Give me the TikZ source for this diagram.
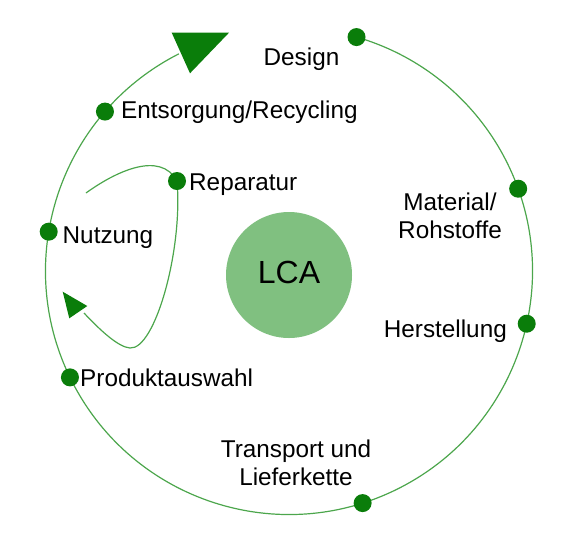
\documentclass[tikz,border=0pt]{standalone}
\usepackage{fontspec}
\setmainfont{Liberation Sans}
\definecolor{dotgreen}{HTML}{0A7D0A}
\definecolor{linegreen}{HTML}{4CA64C}
\definecolor{lcagreen}{HTML}{80C080}
\begin{document}
\begin{tikzpicture}[x=1pt,y=1pt,
  dot/.style={circle,fill=dotgreen,inner sep=0pt,minimum size=18pt},
  lbl/.style={font=\fontsize{24.3}{27.5}\selectfont,inner sep=0pt},
  ring/.style={draw=linegreen,line width=1.2pt},
  arrowtri/.style={fill=dotgreen}]
\useasboundingbox (0,0) rectangle (580,-542);
\coordinate (c) at (289,-271);
% main cycle
\coordinate (arcstart) at ([shift={(116.9:243.5)}]c);
\draw[ring] (arcstart) arc[start angle=116.9,end angle=433.9,radius=243.5];
\fill[arrowtri] (171.7,-32.7) -- (229,-32.7) -- (190,-73.3) -- cycle;
% dots
\node[dot] (design) at ([shift={(73.9:243.5)}]c) {};
\node[dot] (material) at ([shift={(19.75:243.5)}]c) {};
\node[dot] (herst) at ([shift={(-12.5:243.5)}]c) {};
\node[dot] (transport) at ([shift={(-72.4:243.5)}]c) {};
\node[dot] (produkt) at ([shift={(205.9:243.5)}]c) {};
\node[dot] (nutzung) at ([shift={(170.7:243.5)}]c) {};
\node[dot] (entsorgung) at ([shift={(139.1:243.5)}]c) {};
% repair loop
\coordinate (loopstart) at (86,-193);
\coordinate (loopend) at (84,-313);
\draw[ring] (loopstart) .. controls (115,-172) and (160,-150) .. (177,-181)
  .. controls (183,-250) and (155,-350) .. (130,-348)
  .. controls (118,-347) and (100,-330) .. (loopend);
\node[dot] (reparatur) at (177,-181) {};
\fill[arrowtri] (62.7,-291.7) -- (87.3,-306) -- (69.3,-318.3) -- cycle;
% LCA
\node[circle,fill=lcagreen,minimum size=126pt,inner sep=0pt] (lca) at (289,-275) {};
\node[font=\fontsize{32}{36}\selectfont,inner sep=0pt,anchor=base] (lcatext) at (289,-283) {LCA};
% labels
\node[lbl,anchor=base] (tdesign) at (301.5,-65) {Design};
\node[lbl,anchor=base west] (tentsorgung) at (121,-118) {Entsorgung/Recycling};
\node[lbl,anchor=base west] (treparatur) at (189,-190) {Reparatur};
\node[lbl,anchor=base west] (tnutzung) at (62.5,-243) {Nutzung};
\node[lbl,anchor=base west] (tprodukt) at (80,-386) {Produktauswahl};
\node[lbl,anchor=base east] (therst) at (507,-337) {Herstellung};
\node[lbl,align=center,anchor=base] (tmaterial) at (450,-238) {Material/\\Rohstoffe};
\node[lbl,align=center,anchor=base] (ttransport) at (296,-485) {Transport und\\Lieferkette};
\end{tikzpicture}
\end{document}
